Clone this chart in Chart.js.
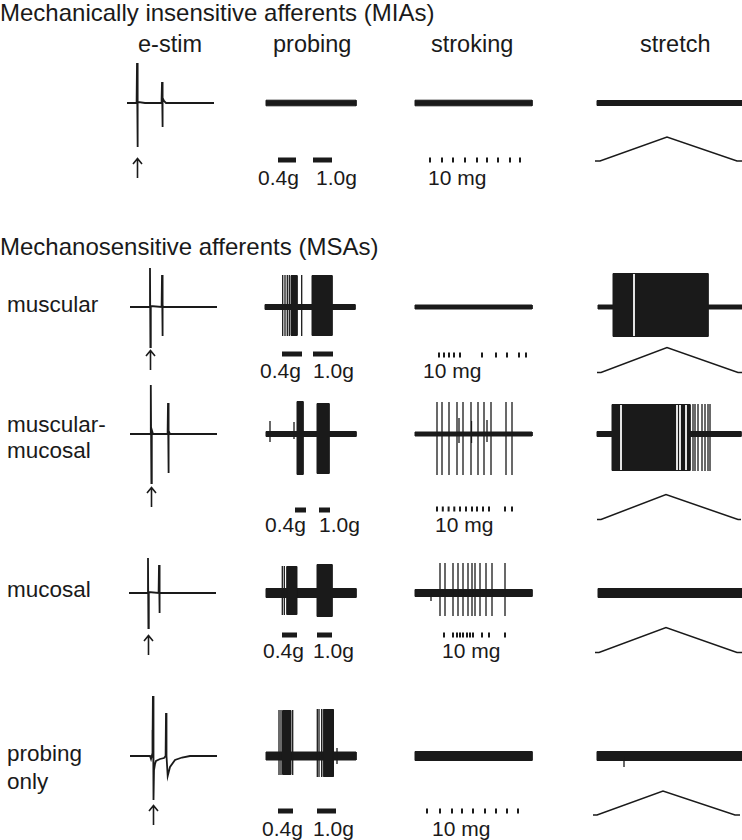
<!DOCTYPE html>
<html><head><meta charset="utf-8">
<script src="https://cdn.jsdelivr.net/npm/chart.js@4/dist/chart.umd.min.js"></script>
<style>
html,body{margin:0;padding:0;background:#fff;}
#fig{position:relative;width:742px;height:840px;overflow:hidden;font-family:"Liberation Sans",Arial,sans-serif;color:#1a1a1a;}
.t{position:absolute;white-space:nowrap;line-height:1;}
canvas{position:absolute;}
</style></head><body><div id="fig"></div><script>
// ---------------- DATA ----------------
const groupTitles = ['Mechanically insensitive afferents (MIAs)', 'Mechanosensitive afferents (MSAs)'];
const columns = ['e-stim', 'probing', 'stroking', 'stretch'];
const rowLabels = [[], ['muscular'], ['muscular-', 'mucosal'], ['mucosal'], ['probing', 'only']];
const probeForces = ['0.4g', '1.0g'];
const strokeLabel = '10 mg';

// e-stim waveforms: [time ms, amplitude]
const estimMIA = [[7,0],[16.6,0],[17,40],[17.4,-44],[17.9,1],[25,0],[41.2,0],[41.6,4],[42,21],[42.4,-24],[42.8,5],[44,2],[46,0],[94,0]];
const estimMus = [[10,0],[29.6,0],[30,39],[30.4,-40],[30.8,1],[41.6,0],[42,32],[42.4,-29],[42.8,1],[44,0],[97,0]];
const estimMM  = [[10,0],[30.2,0],[30.6,4],[31,49],[31.4,-49],[31.8,4],[33,0],[47.6,0],[48,31],[48.4,-39],[48.8,3],[50,0],[97,0]];
const estimMuc = [[9,0],[27.6,0],[28,35],[28.4,-35],[28.8,1],[38.6,0],[39,28],[39.4,-20],[39.8,0],[96,0]];
const estimPO  = [[10,0],[30,0],[31,-3],[32,1],[32.3,0],[32.5,26],[32.7,5],[33,73],[33.5,-44],[34,-14],[35,-8],[36,-5],[40,-3],[44,-2],[45.6,0],[46,43],[46.5,0],[47.7,-20],[50,-11],[55,-4],[62,-1.5],[70,0],[97,0]];
const estimTraces = [estimMIA, estimMus, estimMM, estimMuc, estimPO];
const estimStimTime = [17, 30, 31, 28, 33];

// probing: spans (s), noise half-amplitude, single spikes [t, up, down], bursts [t0, t1, up, down], probe bars [t0, t1]
const probeSpan = [[1.1,10.1],[1.0,10.0],[1.1,10.1],[1.1,10.1],[1.1,10.1]];
const probeNoise = [3.3, 3, 3, 5, 4.5];
const probeSpikes = [
  [],
  [[2.77,32,29],[3.0,32,29],[3.23,32,29],[3.43,32,29],[4.67,32,29]],
  [[1.5,13,8],[3.9,12,5]],
  [[2.73,27,22],[2.93,27,22]],
  [[2.4,46,19],[2.6,46,19],[3.77,46,19],[6.23,47,21],[6.4,47,21],[6.67,47,21],[8.2,8,8]]
];
const probeBursts = [
  [],
  [[3.6,4.2,32,29],[5.7,7.7,32,29]],
  [[4.2,4.8,33,41],[6.2,7.4,31,40]],
  [[3.17,4.17,27,22],[6.2,7.7,29,24]],
  [[2.75,3.57,46,19],[6.83,7.83,47,21]]
];
const probeBars = [
  [[2.3,4.1],[5.8,7.7]],
  [[2.7,4.7],[5.8,7.8]],
  [[4.0,5.1],[6.4,7.5]],
  [[2.7,4.2],[6.2,7.7]],
  [[2.3,3.8],[6.2,8.1]]
];

// stroking
const strokeSpan = [[1.0,12.7],[1.0,12.7],[1.0,12.7],[1.0,12.7],[1.0,12.7]];
const strokeNoise = [3.3, 2.5, 2.5, 4, 5];
const strokeSpikes = [
  [],
  [],
  [[3.2,32,41],[3.7,32,41],[4.4,32,41],[5.2,32,41],[5.4,16,9],[5.8,32,41],[6.6,32,41],[6.65,13,9],[7.3,32,41],[7.9,32,41],[8.2,14,8],[8.6,32,41],[10.1,32,41],[10.7,32,41]],
  [[2.6,0,8],[3.5,30,23],[4.0,30,23],[4.8,30,23],[5.3,30,23],[5.8,30,23],[6.3,30,23],[6.7,30,23],[7.0,30,23],[7.5,30,23],[8.1,30,23],[8.7,30,23],[10.0,30,23]],
  []
];
const strokeTicks = [
  [2.5,3.7,4.8,6.0,7.2,8.2,9.3,10.5,11.5],
  [3.4,3.9,4.4,4.9,5.5,7.7,9.1,10.2,11.4,12.1],
  [3.2,3.78,4.36,4.93,5.5,6.1,6.7,7.2,7.8,8.4,10.0,10.7],
  [3.9,4.8,5.2,5.5,5.8,6.2,6.5,6.8,7.7,8.4,10.0],
  [2.2,3.5,4.7,5.7,6.8,8.0,9.1,10.2,11.3]
];

// stretch
const stretchSpan = [[0.7,15.2],[0.8,15.2],[0.7,15.1],[0.8,15.2],[0.7,15.2]];
const stretchNoise = [3, 2.5, 3, 5, 5];
const stretchBursts = [[], [[2.3,11.8,34,30]], [[2.2,10.0,30,37]], [], []];
const stretchSpikes = [[], [], [[10.3,30,37],[10.5,30,37],[10.8,30,37],[11.2,30,37],[11.5,30,37],[11.8,30,37],[12.0,30,37]], [], [[3.4,0,11]]];
const stretchPauses = [[], [4.4], [3.1,8.7,9.0,9.6], [], []];
const stretchRamp = [
  [[0.5,0],[1.0,0],[7.7,1],[14.7,0],[15.2,0]],
  [[0.7,0],[1.1,0],[7.7,1],[14.8,0],[15.2,0]],
  [[0.7,0],[1.1,0],[7.6,1],[14.8,0],[15.1,0]],
  [[0.5,0],[0.9,0],[7.6,1],[14.7,0],[15.2,0]],
  [[0.3,0],[0.7,0],[7.3,1],[14.5,0],[15.0,0]]
];

// ---------------- LAYOUT (px) ----------------
const colLeft = [120, 255, 405, 590];
const colWidth = [110, 110, 135, 152];
const colPxPerUnit = [1, 10, 10, 10];
const rowBase = [102.5, 307, 434, 592.5, 756];
const arrowTip = [-55, -43, -53, -42, -49];
const barY = [160, 354, 509.5, 634.5, 810.5];
const tickY = [159.5, 354.5, 508.5, 634.5, 810.5];
const rampBase = [161, 372, 519, 652, 815];
const rampPeak = [137, 347, 494, 627, 791];
const headerLeft = [138, 273, 431, 640];
const headerBase = 53;
const titleBase = [21, 255];
const rowLabelBase = [[], [313], [433, 459], [598], [762, 790]];
const stimLabelBase = [185, 378, 532, 658, 836];
const forceLeft = [[258,316],[260,313],[265,319],[263,313],[262,313]];
const strokeLabelLeft = [428, 423, 435, 442, 432];

// ---------------- DRAWING ----------------
const fig = document.getElementById('fig');
const INK = '#1a1a1a';

function label(str, left, baseline, size) {
  const d = document.createElement('div');
  d.className = 't';
  d.textContent = str;
  d.style.left = left + 'px';
  d.style.top = (baseline - 0.8465 * size) + 'px';
  d.style.fontSize = size + 'px';
  fig.appendChild(d);
}

const pts = arr => arr.map(([x, y]) => ({x, y}));
function lineDS(data, width, color, order) {
  return {data, borderColor: color || INK, backgroundColor: color || INK, borderWidth: width,
    pointRadius: 0, fill: false, clip: false, order: order || 1, tension: 0,
    borderCapStyle: 'butt', borderJoinStyle: 'miter'};
}
// filled block (noise band or dense burst); outline inset by half a stroke
function rectDS(t0, t1, up, down, order) {
  const u = up - 0.5, d = down - 0.5;
  return {data: pts([[t0,-d],[t0,u],[t1,u],[t1,-d],[t0,-d]]), borderColor: INK, backgroundColor: INK,
    borderWidth: 1, pointRadius: 0, fill: 'shape', clip: false, order: order || 2, tension: 0};
}
function vlines(list, width, color, order) {
  const d = [];
  list.forEach(([t, u, dn]) => { d.push({x: t, y: u}, {x: t, y: -dn}, {x: t, y: null}); });
  return lineDS(d, width, color, order);
}
function hsegs(list, y, width) {
  const d = [];
  list.forEach(([a, b]) => { d.push({x: a, y}, {x: b, y}, {x: b, y: null}); });
  return lineDS(d, width, INK, 1);
}

const arrowPlugin = {
  id: 'stimArrow',
  afterDatasetsDraw(chart, args, o) {
    if (!o || o.t === undefined) return;
    const {ctx, scales: {x, y}} = chart;
    const px = Math.round(x.getPixelForValue(o.t)) + 0.5;
    const y0 = y.getPixelForValue(o.tip);
    const y1 = y.getPixelForValue(o.tip - o.len);
    ctx.save();
    ctx.strokeStyle = INK; ctx.lineWidth = 1.6;
    ctx.beginPath();
    ctx.moveTo(px, y1); ctx.lineTo(px, y0);
    ctx.moveTo(px - 4.5, y0 + 6); ctx.lineTo(px, y0 + 0.5); ctx.lineTo(px + 4.5, y0 + 6);
    ctx.stroke();
    ctx.restore();
  }
};

function chartAt(left, top, w, h, xr, yr, datasets, arrow) {
  const c = document.createElement('canvas');
  c.width = w; c.height = h;
  c.style.left = left + 'px'; c.style.top = top + 'px';
  c.style.width = w + 'px'; c.style.height = h + 'px';
  fig.appendChild(c);
  return new Chart(c, {
    type: 'line',
    data: {datasets},
    options: {
      responsive: false, animation: false, devicePixelRatio: 1, events: [],
      layout: {padding: 0},
      plugins: {legend: {display: false}, tooltip: {enabled: false}, stimArrow: arrow || {}},
      elements: {point: {radius: 0}, line: {tension: 0}},
      scales: {
        x: {type: 'linear', min: xr[0], max: xr[1], display: false},
        y: {type: 'linear', min: yr[0], max: yr[1], display: false}
      }
    },
    plugins: [arrowPlugin]
  });
}

function noiseBand(span, n) { return rectDS(span[0], span[1], n, n, 4); }

// texts
label(groupTitles[0], 0, titleBase[0], 24);
label(groupTitles[1], 0, titleBase[1], 24);
columns.forEach((c, i) => label(c, headerLeft[i], headerBase, 23.5));
rowLabels.forEach((lines, r) => lines.forEach((s, k) => label(s, 7, rowLabelBase[r][k], 22.5)));
for (let r = 0; r < 5; r++) {
  probeForces.forEach((s, k) => label(s, forceLeft[r][k], stimLabelBase[r], 21));
  label(strokeLabel, strokeLabelLeft[r], stimLabelBase[r], 21);
}

// charts
for (let r = 0; r < 5; r++) {
  const base = rowBase[r];
  // e-stim
  chartAt(colLeft[0], base - 60, colWidth[0], 140, [0, colWidth[0] / colPxPerUnit[0]], [-80, 60],
    [lineDS(pts(estimTraces[r]), 1.8)],
    {t: estimStimTime[r], tip: arrowTip[r], len: 20});

  // probing
  const xp = [0, colWidth[1] / colPxPerUnit[1]];
  chartAt(colLeft[1], base - 60, colWidth[1], 120, xp, [-60, 60],
    [vlines(probeSpikes[r], 1.3, INK, 1)]
      .concat(probeBursts[r].map(b => rectDS(b[0], b[1], b[2], b[3], 2)))
      .concat([noiseBand(probeSpan[r], probeNoise[r])]));
  chartAt(colLeft[1], Math.round(barY[r]) - 10, colWidth[1], 20, xp, [barY[r] - Math.round(barY[r]) > 0 ? 0.05 : 0, 2],
    [hsegs(probeBars[r], 1, 5)]);

  // stroking
  const xs = [0, colWidth[2] / colPxPerUnit[2]];
  chartAt(colLeft[2], base - 60, colWidth[2], 120, xs, [-60, 60],
    [vlines(strokeSpikes[r], 1.3, INK, 1), noiseBand(strokeSpan[r], strokeNoise[r])]);
  chartAt(colLeft[2], Math.round(tickY[r]) - 10, colWidth[2], 20, xs, [0, 2],
    [vlines(strokeTicks[r].map(t => [t, 1.25, -0.75]), 2, INK, 1)]);

  // stretch
  const xt = [0, colWidth[3] / colPxPerUnit[3]];
  const pauseList = stretchPauses[r].map(t => {
    const b = stretchBursts[r][0];
    return [t, b[2] - 1, b[3] - 1];
  });
  chartAt(colLeft[3], base - 60, colWidth[3], 120, xt, [-60, 60],
    [vlines(pauseList, 1, '#ffffff', 0), vlines(stretchSpikes[r], 1.3, INK, 1)]
      .concat(stretchBursts[r].map(b => rectDS(b[0], b[1], b[2], b[3], 2)))
      .concat([noiseBand(stretchSpan[r], stretchNoise[r])]));
  const hRamp = rampBase[r] - rampPeak[r];
  const H = 40, pad = (H - hRamp) / 2;
  chartAt(colLeft[3], rampPeak[r] - pad, colWidth[3], H, xt, [-pad / hRamp, 1 + pad / hRamp],
    [lineDS(pts(stretchRamp[r]), 1.5)]);
}
</script></body></html>
